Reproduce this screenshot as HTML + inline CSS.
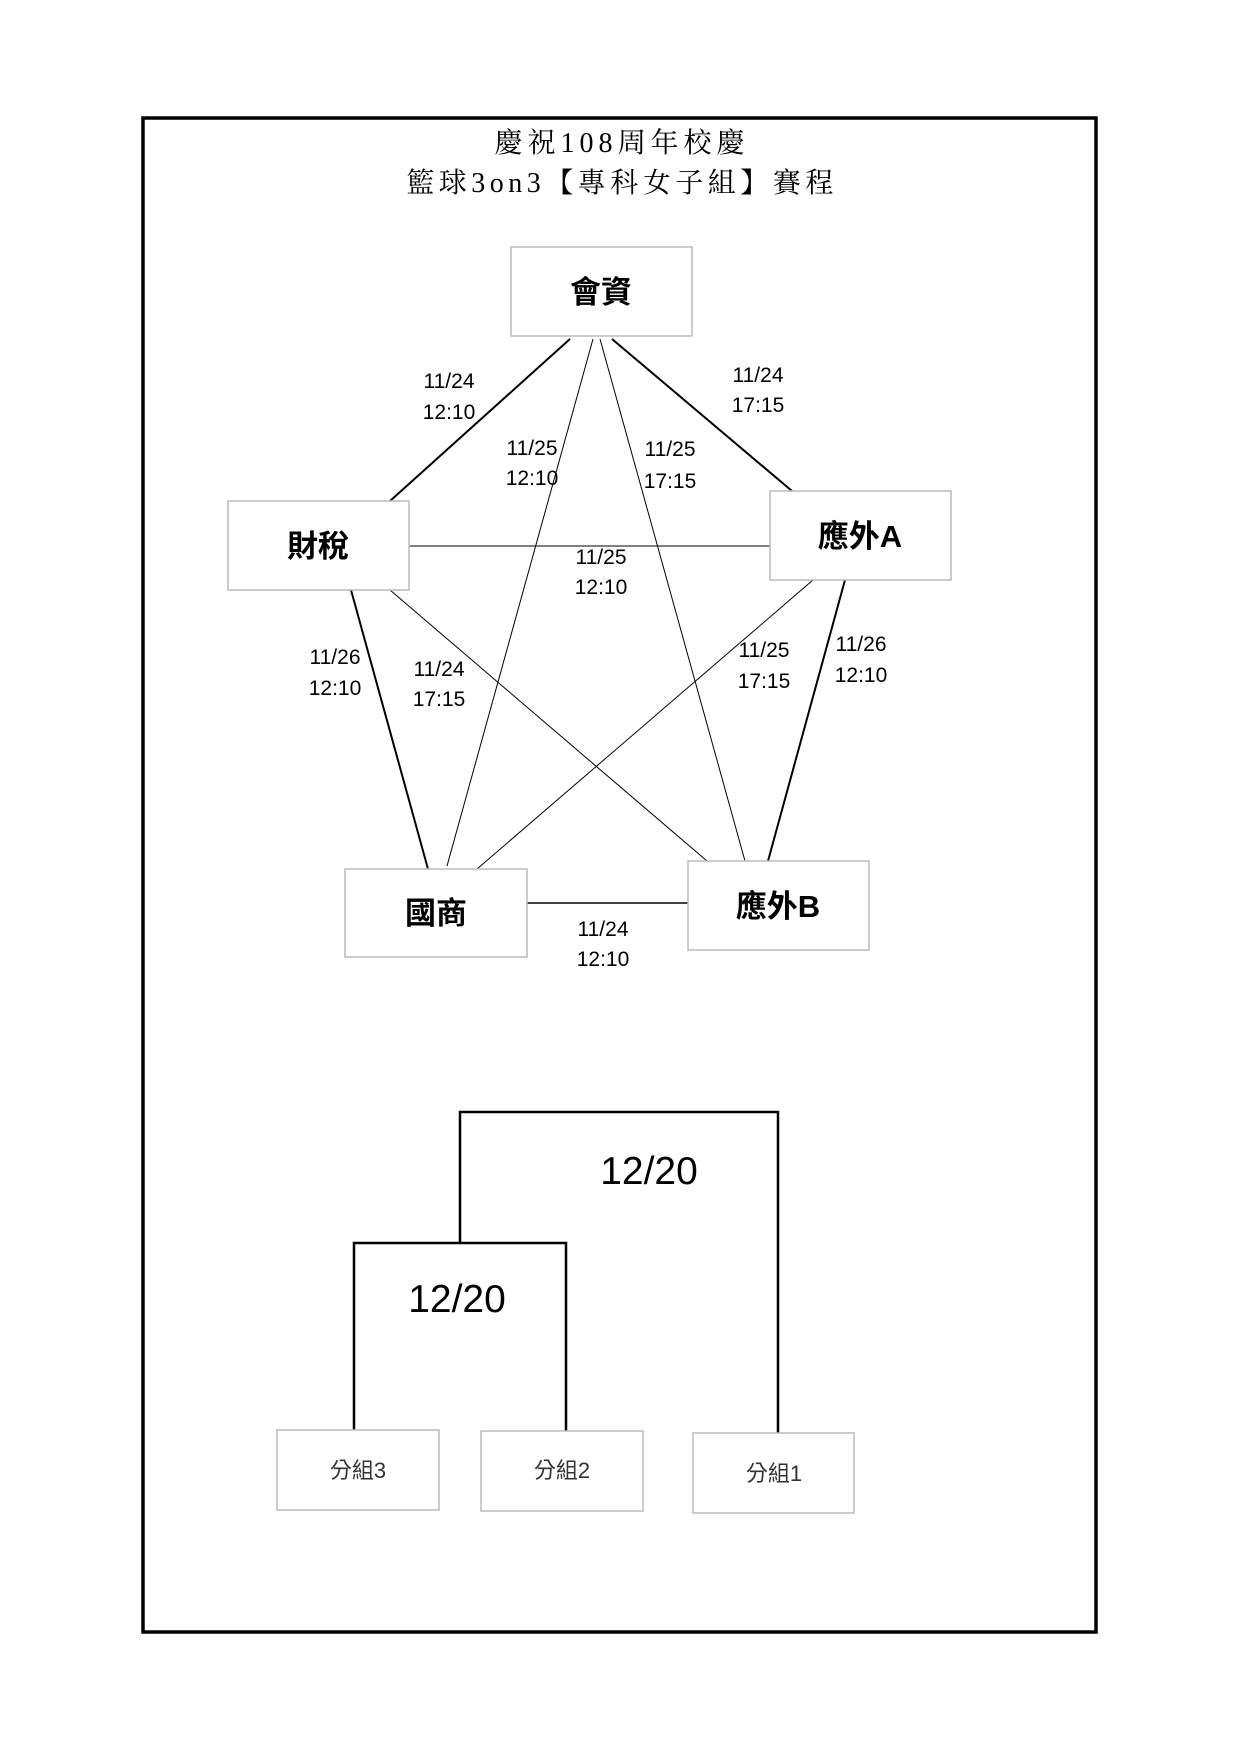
<!DOCTYPE html>
<html><head><meta charset="utf-8"><style>
html,body{margin:0;padding:0;background:#fff;}
svg{display:block;}
.t{font-family:"Liberation Sans","Noto Sans CJK TC",sans-serif;font-size:21px;fill:#000;text-anchor:middle;}
.b{font-family:"Liberation Sans","Noto Sans CJK TC",sans-serif;font-size:31px;font-weight:bold;fill:#000;text-anchor:middle;}
.g{font-family:"Liberation Sans","Noto Sans CJK TC",sans-serif;font-size:22px;fill:#333;text-anchor:middle;}
.h{font-family:"Liberation Serif","Noto Serif CJK TC","Noto Serif CJK SC",serif;font-size:28px;fill:#000;text-anchor:middle;}
</style></head><body>
<svg width="1241" height="1755" viewBox="0 0 1241 1755" xmlns="http://www.w3.org/2000/svg">
<rect x="143" y="118" width="953" height="1514" fill="none" stroke="#000" stroke-width="3.5"/>
<text class="h" x="622" y="152" letter-spacing="5">慶祝108周年校慶</text>
<text class="h" x="622" y="192" letter-spacing="4.5">籃球3on3【專科女子組】賽程</text>
<g stroke="#000" fill="none">
<line x1="570" y1="339" x2="390" y2="501" stroke-width="2"/>
<line x1="612" y1="339" x2="792" y2="491" stroke-width="2"/>
<line x1="593" y1="339" x2="447" y2="866" stroke-width="1"/>
<line x1="600" y1="339" x2="745" y2="861" stroke-width="1"/>
<line x1="409" y1="546" x2="770" y2="546" stroke-width="1"/>
<line x1="351" y1="590" x2="428" y2="869" stroke-width="2"/>
<line x1="390" y1="590" x2="707" y2="861" stroke-width="1"/>
<line x1="813" y1="580" x2="477" y2="869" stroke-width="1"/>
<line x1="845" y1="580" x2="768" y2="861" stroke-width="2"/>
<line x1="527" y1="903" x2="688" y2="903" stroke-width="1.5"/>
</g>
<g fill="#fff" stroke="#bbb" stroke-width="1.5">
<rect x="511" y="247" width="181" height="89"/>
<rect x="228" y="501" width="181" height="89"/>
<rect x="770" y="491" width="181" height="89"/>
<rect x="345" y="869" width="182" height="88"/>
<rect x="688" y="861" width="181" height="89"/>
</g>
<text class="b" x="601" y="303">會資</text>
<text class="b" x="318" y="557">財稅</text>
<text class="b" x="860" y="547">應外A</text>
<text class="b" x="436" y="924">國商</text>
<text class="b" x="778" y="917">應外B</text>
<g class="t">
<text class="t" x="449" y="388">11/24</text><text class="t" x="449" y="419">12:10</text>
<text class="t" x="758" y="382">11/24</text><text class="t" x="758" y="412">17:15</text>
<text class="t" x="532" y="455">11/25</text><text class="t" x="532" y="485">12:10</text>
<text class="t" x="670" y="456">11/25</text><text class="t" x="670" y="488">17:15</text>
<text class="t" x="601" y="564">11/25</text><text class="t" x="601" y="594">12:10</text>
<text class="t" x="335" y="664">11/26</text><text class="t" x="335" y="695">12:10</text>
<text class="t" x="439" y="676">11/24</text><text class="t" x="439" y="706">17:15</text>
<text class="t" x="764" y="657">11/25</text><text class="t" x="764" y="688">17:15</text>
<text class="t" x="861" y="651">11/26</text><text class="t" x="861" y="682">12:10</text>
<text class="t" x="603" y="936">11/24</text><text class="t" x="603" y="966">12:10</text>
</g>
<polyline points="460,1243 460,1112 778,1112 778,1433" fill="none" stroke="#000" stroke-width="2.5"/>
<polyline points="354,1431 354,1243 566,1243 566,1431" fill="none" stroke="#000" stroke-width="2.5"/>
<text x="649" y="1184" style="font-family:'Liberation Sans',sans-serif;font-size:39px;text-anchor:middle;">12/20</text>
<text x="457" y="1312" style="font-family:'Liberation Sans',sans-serif;font-size:39px;text-anchor:middle;">12/20</text>
<g fill="#fff" stroke="#bbb" stroke-width="1.5">
<rect x="277" y="1430" width="162" height="80"/>
<rect x="481" y="1431" width="162" height="80"/>
<rect x="693" y="1433" width="161" height="80"/>
</g>
<text class="g" x="358" y="1478">分組3</text>
<text class="g" x="562" y="1478">分組2</text>
<text class="g" x="774" y="1481">分組1</text>
</svg>
</body></html>
